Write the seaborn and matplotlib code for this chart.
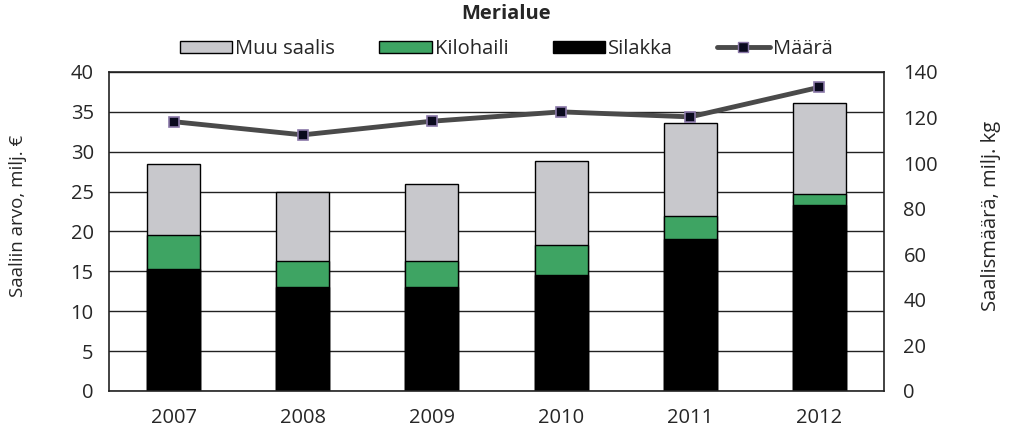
import numpy as np
import pandas as pd
import seaborn as sns
import matplotlib.pyplot as plt
from matplotlib.patches import Patch
from matplotlib.lines import Line2D
from matplotlib.ticker import FixedLocator

# DATA
vuodet = ['2007', '2008', '2009', '2010', '2011', '2012']
silakka = [15.3, 13.1, 13.1, 14.6, 19.0, 23.3]
kilohaili = [4.2, 3.2, 3.2, 3.7, 3.0, 1.4]
muu_saalis = [8.9, 8.6, 9.6, 10.6, 11.6, 11.4]
maara = [118.2, 112.4, 118.4, 122.5, 120.3, 133.3]

df = pd.DataFrame({'vuosi': vuodet, 'silakka': silakka,
                   'kilohaili': kilohaili, 'muu': muu_saalis})
df['s_k'] = df.silakka + df.kilohaili
df['yht'] = df.s_k + df.muu

sns.set_style('white')
plt.rcParams['font.family'] = ['Open Sans', 'DejaVu Sans']

c_muu = '#c8c8cc'
c_kilo = '#3ea463'
c_sil = '#000000'
fs = 14.5

fig = plt.figure(figsize=(10.12, 4.29), dpi=100)
ax = fig.add_axes([0.1077, 0.0886, 0.7658, 0.7436])

# pinotut pylväät: kokonaissumma ensin, sitten päälle pienemmät
w = 0.41
sns.barplot(data=df, x='vuosi', y='yht', color=c_muu, width=w,
            edgecolor='black', linewidth=1, saturation=1, ax=ax, zorder=2)
sns.barplot(data=df, x='vuosi', y='s_k', color=c_kilo, width=w,
            edgecolor='black', linewidth=1, saturation=1, ax=ax, zorder=2)
sns.barplot(data=df, x='vuosi', y='silakka', color=c_sil, width=w,
            edgecolor='black', linewidth=1, saturation=1, ax=ax, zorder=2)

ax.set_ylim(0, 40)
ax.set_xlim(-0.5, 5.5)
ax.set_yticks(np.arange(0, 41, 5))
ax.yaxis.grid(True, color='#222222', linewidth=1)
ax.set_axisbelow(True)
ax.set_xlabel('')
ax.set_ylabel('Saaliin arvo, milj. €', fontsize=13.5)
ax.yaxis.set_label_coords(-0.106, 0.55)
ax.tick_params(axis='y', length=0, labelsize=fs, pad=11)
ax.tick_params(axis='x', length=0, labelsize=fs, pad=12)
ax.xaxis.set_minor_locator(FixedLocator(np.arange(0.5, 5.0, 1)))
ax.tick_params(axis='x', which='minor', direction='in', length=5, color='black')
for s in ax.spines.values():
    s.set_color('#222222')
    s.set_linewidth(1.2)

# määrä toisella akselilla
ax2 = ax.twinx()
sns.lineplot(x=np.arange(len(vuodet)), y=maara, ax=ax2, color='#4a4a4a',
             linewidth=3.5, marker='s', markersize=7, markerfacecolor='#0a0a1e',
             markeredgecolor='#8a78a8', markeredgewidth=1.2, zorder=5)
ax2.set_ylim(0, 140)
ax2.set_yticks(np.arange(0, 141, 20))
ax2.tick_params(axis='y', length=0, labelsize=fs, pad=14)
ax2.set_ylabel('Saalismäärä, milj. kg', fontsize=14.5)
ax2.yaxis.set_label_coords(1.125, 0.55)
for s in ax2.spines.values():
    s.set_visible(False)

fig.suptitle('Merialue', fontsize=14.5, fontweight='bold', y=0.99)

handles = [Patch(facecolor=c_muu, edgecolor='black', linewidth=1),
           Patch(facecolor=c_kilo, edgecolor='black', linewidth=1),
           Patch(facecolor=c_sil, edgecolor='black', linewidth=1),
           Line2D([0], [0], color='#4a4a4a', linewidth=3.5, marker='s',
                  markersize=7, markerfacecolor='#0a0a1e', markeredgecolor='#8a78a8')]
labels = ['Muu saalis', 'Kilohaili', 'Silakka', 'Määrä']
fig.legend(handles, labels, loc='center', bbox_to_anchor=(0.5, 0.886), ncol=4,
           frameon=False, fontsize=fs, handlelength=2.6, handleheight=0.55,
           handletextpad=0.15, columnspacing=2.2)

fig.savefig('out.png', dpi=100)
